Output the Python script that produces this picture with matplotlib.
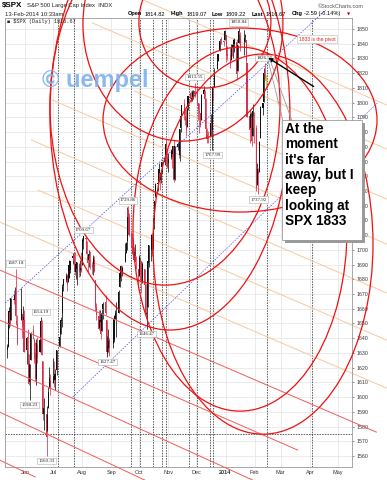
import matplotlib.pyplot as plt
import matplotlib.dates as mdates
from matplotlib.patches import Ellipse, Rectangle
import numpy as np
import pandas as pd

plt.rcParams['font.family'] = ['Liberation Sans', 'DejaVu Sans']

# trading days shown on the chart
holidays = ['2013-05-27', '2013-07-04', '2013-09-02', '2013-11-28',
            '2013-12-25', '2014-01-01', '2014-01-20']
days = pd.bdate_range('2013-05-13', '2014-02-13')
days = days[~days.isin(pd.to_datetime(holidays))]

opens = [1632.1, 1633.8, 1649.1, 1658.1, 1652.5, 1665.7, 1666.2, 1669.4, 1651.6, 1646.7, 1652.6, 1656.6, 1649.1, 1652.1,
         1631.7, 1640.7, 1629.1, 1609.9, 1625.3, 1644.7, 1638.6, 1629.9, 1612.2, 1635.5, 1630.6, 1639.8, 1651.8, 1624.6, 1588.6, 1588.8, 1577.5, 1592.3, 1606.4, 1611.1,
         1609.8, 1614.3, 1611.5, 1618.7, 1634.2, 1642.9, 1651.6, 1657.4, 1675.3, 1679.6, 1682.7, 1677.9, 1681.1, 1686.2, 1694.4, 1696.6, 1696.1, 1685.2, 1687.3, 1690.3, 1687.9, 1687.8,
         1689.4, 1706.1, 1708.0, 1705.8, 1695.3, 1693.4, 1696.1, 1688.4, 1690.7, 1693.4, 1679.6, 1661.2, 1655.3, 1646.8, 1650.7, 1645.0, 1659.9, 1664.3, 1652.5, 1630.3, 1633.5, 1638.9,
         1635.9, 1638.8, 1653.3, 1657.4, 1656.9, 1675.1, 1681.0, 1689.2, 1685.0, 1691.7, 1697.7, 1705.7, 1727.3, 1722.4, 1711.4, 1702.6, 1698.0, 1694.1, 1695.5, 1687.3,
         1682.4, 1691.9, 1692.4, 1678.8, 1687.1, 1676.2, 1657.0, 1660.9, 1691.1, 1699.9, 1709.2, 1700.5, 1720.2, 1736.7, 1745.2, 1746.5, 1752.3, 1747.5, 1756.0, 1759.4, 1762.9, 1772.3, 1763.2,
         1758.7, 1763.4, 1765.7, 1765.0, 1770.7, 1748.4, 1769.9, 1769.5, 1764.4, 1782.8, 1790.7, 1798.8, 1790.8, 1789.6, 1783.5, 1797.0, 1806.3, 1802.9, 1803.5, 1808.1,
         1806.6, 1800.1, 1794.2, 1792.8, 1788.4, 1806.2, 1807.6, 1802.8, 1781.7, 1778.0, 1777.5, 1786.5, 1781.5, 1809.0, 1810.4, 1822.9, 1828.0, 1835.0, 1843.0, 1841.5, 1842.6,
         1845.9, 1833.2, 1832.3, 1828.7, 1837.9, 1839.0, 1840.1, 1841.3, 1821.4, 1840.5, 1848.0, 1844.2, 1841.1, 1844.7, 1842.3, 1827.0, 1791.0, 1783.0, 1790.2, 1777.2, 1790.9,
         1782.7, 1743.8, 1753.4, 1753.0, 1776.0, 1796.2, 1800.4, 1820.1, 1814.8]
highs = [1636.0, 1651.1, 1661.5, 1660.5, 1667.5, 1672.8, 1674.9, 1687.2, 1655.5, 1649.8, 1674.2, 1656.6, 1661.9, 1658.9,
         1640.4, 1646.5, 1629.3, 1622.6, 1644.4, 1648.7, 1640.1, 1637.7, 1639.3, 1640.8, 1646.5, 1654.2, 1652.5, 1624.6, 1599.2, 1588.8, 1593.8, 1606.8, 1620.1, 1615.9,
         1626.6, 1624.3, 1618.9, 1632.1, 1644.7, 1654.2, 1657.9, 1676.6, 1680.2, 1684.5, 1683.7, 1684.8, 1693.1, 1692.1, 1697.6, 1698.8, 1698.4, 1690.9, 1691.9, 1690.9, 1693.2, 1698.4,
         1707.9, 1709.7, 1709.2, 1705.8, 1695.3, 1700.2, 1699.4, 1691.5, 1696.8, 1695.5, 1679.6, 1663.6, 1659.2, 1658.9, 1656.9, 1659.6, 1664.9, 1669.5, 1652.5, 1641.2, 1646.4, 1640.1,
         1651.3, 1655.7, 1659.2, 1664.8, 1672.4, 1684.1, 1689.1, 1689.9, 1688.7, 1704.9, 1705.5, 1729.4, 1729.9, 1725.2, 1711.4, 1707.6, 1701.7, 1703.9, 1695.5, 1687.3,
         1696.6, 1693.9, 1692.4, 1691.9, 1687.1, 1676.8, 1662.4, 1692.6, 1703.4, 1711.0, 1711.6, 1721.8, 1733.4, 1745.3, 1747.8, 1759.3, 1752.3, 1753.9, 1759.8, 1764.0, 1772.1, 1775.2, 1768.5,
         1765.7, 1768.8, 1767.0, 1770.8, 1774.5, 1770.8, 1773.4, 1771.8, 1782.0, 1791.0, 1798.2, 1802.3, 1795.5, 1795.7, 1797.2, 1804.8, 1808.1, 1808.4, 1808.3, 1813.6,
         1810.0, 1800.1, 1799.8, 1792.8, 1806.0, 1811.5, 1808.5, 1803.0, 1783.0, 1780.9, 1792.2, 1786.8, 1811.1, 1810.9, 1823.8, 1829.8, 1833.3, 1842.8, 1844.9, 1842.5, 1849.4,
         1845.9, 1838.2, 1837.2, 1840.1, 1840.0, 1843.2, 1843.8, 1843.5, 1839.3, 1850.8, 1848.0, 1846.0, 1849.3, 1846.9, 1842.3, 1827.0, 1796.0, 1793.9, 1790.2, 1798.8, 1793.9,
         1784.8, 1758.7, 1755.8, 1774.1, 1798.0, 1799.9, 1823.5, 1826.6, 1819.1]
lows = [1626.7, 1633.8, 1646.7, 1648.6, 1652.5, 1663.5, 1662.7, 1648.9, 1635.5, 1636.6, 1652.6, 1640.1, 1648.6, 1630.7,
        1622.7, 1623.6, 1608.4, 1598.2, 1625.3, 1639.3, 1622.9, 1610.9, 1608.1, 1623.0, 1630.3, 1639.8, 1628.9, 1584.3, 1577.7, 1560.3, 1577.1, 1592.3, 1606.4, 1601.1,
        1609.8, 1606.8, 1604.6, 1614.7, 1634.2, 1642.9, 1647.7, 1657.4, 1672.3, 1677.9, 1671.8, 1677.9, 1681.1, 1684.1, 1690.7, 1691.1, 1682.6, 1680.2, 1676.0, 1681.9, 1682.4, 1684.9,
        1689.4, 1700.7, 1703.6, 1693.3, 1684.9, 1688.4, 1687.0, 1683.4, 1682.6, 1684.8, 1658.6, 1652.6, 1645.8, 1646.1, 1639.4, 1645.0, 1653.0, 1656.0, 1629.1, 1627.5, 1630.9, 1628.0,
        1633.4, 1637.4, 1653.1, 1640.6, 1656.9, 1675.1, 1678.7, 1681.0, 1682.2, 1691.7, 1697.7, 1700.2, 1721.2, 1709.7, 1697.1, 1694.9, 1691.9, 1693.1, 1687.1, 1674.9,
        1682.1, 1680.3, 1670.4, 1677.3, 1674.7, 1655.0, 1646.5, 1660.9, 1688.5, 1692.1, 1695.5, 1700.5, 1714.1, 1735.7, 1740.3, 1746.5, 1740.5, 1745.5, 1752.5, 1757.7, 1762.9, 1757.2, 1755.7,
        1752.7, 1761.6, 1755.8, 1761.5, 1746.2, 1747.6, 1767.8, 1762.3, 1760.6, 1780.2, 1790.7, 1788.4, 1784.7, 1777.2, 1783.5, 1794.7, 1800.6, 1800.8, 1802.4, 1803.9,
        1798.7, 1787.9, 1779.1, 1783.4, 1788.4, 1806.2, 1801.4, 1780.1, 1772.3, 1772.3, 1777.5, 1777.2, 1768.0, 1801.3, 1810.4, 1822.9, 1828.0, 1835.0, 1839.8, 1838.8, 1842.4,
        1827.7, 1829.1, 1823.7, 1828.7, 1831.4, 1830.4, 1834.4, 1815.5, 1821.4, 1840.5, 1840.3, 1835.2, 1832.4, 1840.9, 1820.1, 1790.3, 1772.9, 1783.0, 1770.5, 1777.2, 1772.3,
        1739.7, 1743.8, 1737.9, 1752.6, 1776.0, 1791.8, 1800.4, 1816.0, 1809.2]
closes = [1633.8, 1650.3, 1658.8, 1650.5, 1667.5, 1666.3, 1669.2, 1655.4, 1650.5, 1649.6, 1660.1, 1648.4, 1654.4, 1630.7,
          1640.4, 1631.4, 1608.9, 1622.6, 1643.4, 1642.8, 1626.1, 1612.5, 1636.4, 1626.7, 1639.0, 1651.8, 1628.9, 1588.2, 1592.4, 1573.1, 1588.0, 1603.3, 1613.2, 1606.3,
          1615.0, 1614.1, 1615.4, 1631.9, 1640.5, 1652.3, 1652.6, 1675.0, 1680.2, 1682.5, 1676.3, 1680.9, 1689.4, 1692.1, 1695.5, 1692.4, 1685.9, 1690.3, 1691.7, 1685.3, 1686.0, 1685.7,
          1706.9, 1709.7, 1707.1, 1697.4, 1690.9, 1697.5, 1691.4, 1689.5, 1694.2, 1685.4, 1661.3, 1655.8, 1646.1, 1652.4, 1642.8, 1657.0, 1663.5, 1656.8, 1630.5, 1635.0, 1638.2, 1633.0,
          1639.8, 1653.1, 1655.1, 1655.2, 1671.7, 1684.0, 1689.1, 1683.4, 1688.0, 1697.6, 1704.8, 1725.5, 1722.3, 1709.9, 1701.8, 1697.4, 1692.8, 1698.7, 1691.8, 1681.6,
          1695.0, 1693.9, 1678.7, 1690.5, 1676.1, 1655.5, 1656.4, 1692.6, 1703.2, 1710.1, 1698.1, 1721.5, 1733.2, 1744.5, 1744.7, 1754.7, 1746.4, 1752.1, 1759.8, 1762.1, 1772.0, 1763.3, 1756.5,
          1761.6, 1767.9, 1763.0, 1770.5, 1747.2, 1770.6, 1771.9, 1767.7, 1782.0, 1790.6, 1798.2, 1791.5, 1787.9, 1781.4, 1795.9, 1804.8, 1802.5, 1802.8, 1807.2, 1805.8,
          1800.9, 1795.2, 1792.8, 1785.0, 1805.1, 1808.4, 1802.6, 1782.2, 1775.5, 1775.3, 1786.5, 1781.0, 1810.7, 1809.6, 1818.3, 1828.0, 1833.3, 1842.0, 1841.4, 1841.1, 1848.4,
          1832.0, 1831.4, 1826.8, 1837.9, 1837.5, 1838.1, 1842.4, 1819.2, 1838.9, 1848.4, 1845.9, 1838.7, 1843.8, 1844.9, 1828.5, 1790.3, 1781.6, 1792.5, 1774.2, 1794.2, 1782.6,
          1741.9, 1755.2, 1751.6, 1773.4, 1797.0, 1799.8, 1819.8, 1819.3, 1816.7]

# swing labels
label_dates = ['2013-05-22', '2013-06-18', '2013-06-06', '2013-06-24', '2013-08-02', '2013-08-28',
               '2013-09-19', '2013-10-09', '2013-11-29', '2013-12-18', '2014-01-15', '2014-02-05', '2014-02-12']
label_values = [1687.18, 1654.19, 1598.23, 1560.33, 1709.67, 1627.47,
                1729.86, 1646.47, 1813.55, 1767.99, 1850.84, 1737.92, 1826.55]
label_above = [True, True, False, False, True, False, True, False, True, False, True, False, True]

# annotations drawn on the chart (date, price)
orange_start = [('2013-10-05', 1869.7), ('2013-08-12', 1854.1), ('2013-09-26', 1807.9), ('2013-06-30', 1801.8),
                ('2013-06-08', 1774.6), ('2013-06-15', 1740.6), ('2013-05-05', 1718.9)]
orange_end = [('2014-06-22', 1798.4), ('2014-06-22', 1768.5), ('2014-06-22', 1734.5), ('2014-06-22', 1703.9),
              ('2014-06-22', 1670.7), ('2014-06-22', 1638.7), ('2014-06-22', 1606.1)]
red_start = [('2013-05-05', 1686.3), ('2013-05-05', 1652.3), ('2013-05-05', 1621.7), ('2013-05-05', 1589.8), ('2013-05-05', 1557.2)]
red_end = [('2014-06-11', 1576.2), ('2014-03-19', 1564.0), ('2014-01-30', 1543.6), ('2013-10-07', 1543.6), ('2013-06-12', 1545.7)]
blue_start = [('2013-05-11', 1663.9), ('2013-07-22', 1600.0)]
blue_end = [('2014-04-18', 1862.9), ('2014-06-12', 1799.7)]
cycle_dates = ['2013-07-06', '2013-07-23', '2013-09-22', '2013-10-02', '2013-10-16', '2013-10-25', '2013-10-29',
               '2013-11-23', '2013-12-02', '2013-12-15', '2013-12-19', '2014-02-14', '2014-04-03']
support_level = 1575
pivot_date, pivot_price = '2014-02-13', 1833
# ellipses: centre date, centre price, width (days), height (points)
ell_centre = [('2014-02-10', 1703.9), ('2014-01-16 12:00', 1714.1), ('2013-11-02 16:00', 1792.3),
              ('2013-10-28 10:00', 1798.0), ('2014-01-16 12:00', 1788.2), ('2013-11-16 14:00', 1853.4),
              ('2013-12-10', 1854.8)]
ell_width = [234.8, 228.4, 256.1, 245.5, 292.4, 213.4, 140.9]
ell_height = [258.2, 247.3, 293.5, 243.9, 125.0, 159.0, 89.7]

months = pd.date_range('2013-06-01', '2014-05-01', freq='MS')
month_names = ['Jun', 'Jul', 'Aug', 'Sep', 'Oct', 'Nov', 'Dec', '2014', 'Feb', 'Mar', 'Apr', 'May']

W, H = 387, 480
fig = plt.figure(figsize=(W / 100, H / 100), dpi=100)
ax = fig.add_axes([5 / W, 13 / H, 347 / W, 449 / H])
ax.set_xlim(pd.Timestamp('2013-05-10 16:00'), pd.Timestamp('2014-05-16'))
ax.set_ylim(1552.5, 1857.5)

# grid
ax.set_yticks(np.arange(1560, 1851, 10))
ax.set_xticks(months)
ax.grid(color='#e3e3e3', lw=0.5, zorder=0)
ax.set_axisbelow(True)
ax.yaxis.tick_right()
ax.tick_params(axis='y', labelsize=3.8, length=1.5, width=0.4, pad=1.5, colors='#333333')
ax.tick_params(axis='x', labelsize=4, length=0, pad=2, colors='#333333')
ax.set_xticklabels(month_names)
ax.get_xticklabels()[7].set_fontweight('bold')
for s in ax.spines.values():
    s.set_color('#9a9a9a')
    s.set_linewidth(0.6)

# candles
x = mdates.date2num(days)
o = np.array(opens); h = np.array(highs); l = np.array(lows); c = np.array(closes)
prev = np.r_[c[0], c[:-1]]
cols = np.where(c >= prev, '#111111', '#d8324e').astype(object)
cols[-1] = '#e0b000'
ax.vlines(x, l, h, colors=cols, lw=0.55, zorder=3)
ax.bar(x, np.maximum(np.abs(c - o), 0.6), bottom=np.minimum(o, c), width=1.2, color=cols, zorder=3)

# dashed cycle lines and support level
for d in cycle_dates:
    ax.axvline(pd.Timestamp(d), color='#222222', lw=0.5, ls=(0, (2.2, 1.6)), zorder=2)
ax.axhline(support_level, color='#222222', lw=0.5, ls=(0, (2.2, 1.6)), zorder=2)

def seg(a, b, **kw):
    ax.plot([pd.Timestamp(a[0]), pd.Timestamp(b[0])], [a[1], b[1]], clip_on=False, **kw)

for a, b in zip(orange_start, orange_end):
    seg(a, b, color='#f7c9a0', lw=0.7, zorder=2)
for a, b in zip(red_start, red_end):
    seg(a, b, color='#f25a5a', lw=0.7, zorder=4)
for a, b in zip(blue_start, blue_end):
    seg(a, b, color='#3a3aff', lw=0.5, ls=(0, (2, 2)), zorder=4)

for (d, p), w, hh in zip(ell_centre, ell_width, ell_height):
    e = Ellipse((mdates.date2num(pd.Timestamp(d)), p), w, hh, fill=False,
                ec='#ee1111', lw=0.9, zorder=5, clip_on=False)
    ax.add_patch(e)

# swing labels
for d, v, up in zip(label_dates, label_values, label_above):
    ax.annotate(f'{v:.2f}', (pd.Timestamp(d), v), xytext=(0, 2.5 if up else -2.5),
                textcoords='offset points', ha='center', va='bottom' if up else 'top',
                fontsize=3.6, family='Liberation Serif', color='#222222', zorder=6,
                bbox=dict(boxstyle='square,pad=0.25', fc='white', ec='#b0b0b0', lw=0.4))

def fx(px):
    return px / W

def fy(py):
    return 1 - py / H

# header
fig.text(fx(2), fy(6), '$SPX', fontsize=5.8, fontweight='bold', va='center')
fig.text(fx(27), fy(6), 'S&P 500 Large Cap Index  INDX', fontsize=4.2, va='center', color='#222222')
fig.text(fx(5), fy(14), '13-Feb-2014 10:33am', fontsize=4.2, va='center', color='#222222')
fig.text(fx(318), fy(6), '\u00a9StockCharts.com', fontsize=4, va='center', color='#555555')
pieces = [(128, 'Open', True), (145, '1814.82', False), (171, 'High', True), (187, '1819.07', False),
          (212, 'Low', True), (226, '1809.22', False), (252, 'Last', True), (266, '1816.67', False),
          (292, 'Chg', True), (304, '-2.59 (-0.14%)', False)]
for px, t, b in pieces:
    fig.text(fx(px), fy(14), t, fontsize=4.1, va='center', fontweight='bold' if b else 'normal')
fig.text(fx(347), fy(14), '\u25bc', fontsize=3.0, va='center', color='#aa0033', family='DejaVu Sans')
fig.text(fx(7), fy(22), '\u25a0 $SPX (Daily) 1816.67', fontsize=3.8, va='center',
         family=['Liberation Mono', 'DejaVu Sans Mono'], color='#222222')

# watermark
fig.text(fx(42), fy(80), '\u00a9 uempel', fontsize=17, fontweight='bold', va='center',
         color='#7fb2ec', alpha=0.9, zorder=1)

# pivot note and arrow
fig.text(fx(317), fy(39), '1833 is the pivot', fontsize=3.6, color='#e02020', ha='center', va='center',
         bbox=dict(boxstyle='square,pad=0.35', fc='white', ec='#bbbbbb', lw=0.4))
ax.annotate('', xy=(pd.Timestamp(pivot_date), pivot_price - 1.5), xytext=(316, H - 88),
            textcoords='figure pixels',
            arrowprops=dict(arrowstyle='-|>', color='black', lw=1.0, mutation_scale=6), zorder=8)
fig.lines.append(plt.Line2D([fx(268), fx(283)], [fy(60), fy(121)], color='#999999', lw=0.6,
                            transform=fig.transFigure))
fig.lines.append(plt.Line2D([fx(270), fx(292)], [fy(60), fy(121)], color='#999999', lw=0.6,
                            transform=fig.transFigure))

# comment box
fig.patches.append(Rectangle((fx(285), fy(243)), 80 / W, 120 / H, transform=fig.transFigure,
                             fc='#9a9a9a', ec='none', zorder=9))
fig.patches.append(Rectangle((fx(282), fy(240)), 80 / W, 120 / H, transform=fig.transFigure,
                             fc='white', ec='#888888', lw=0.5, zorder=10))
fig.text(fx(285), fy(122), "At the\nmoment\nit's far\naway, but I\nkeep\nlooking at\nSPX 1833",
         fontsize=9.8, fontweight='bold', va='top', ha='left', linespacing=1.12, zorder=11)

fig.savefig('out.png', dpi=100)
